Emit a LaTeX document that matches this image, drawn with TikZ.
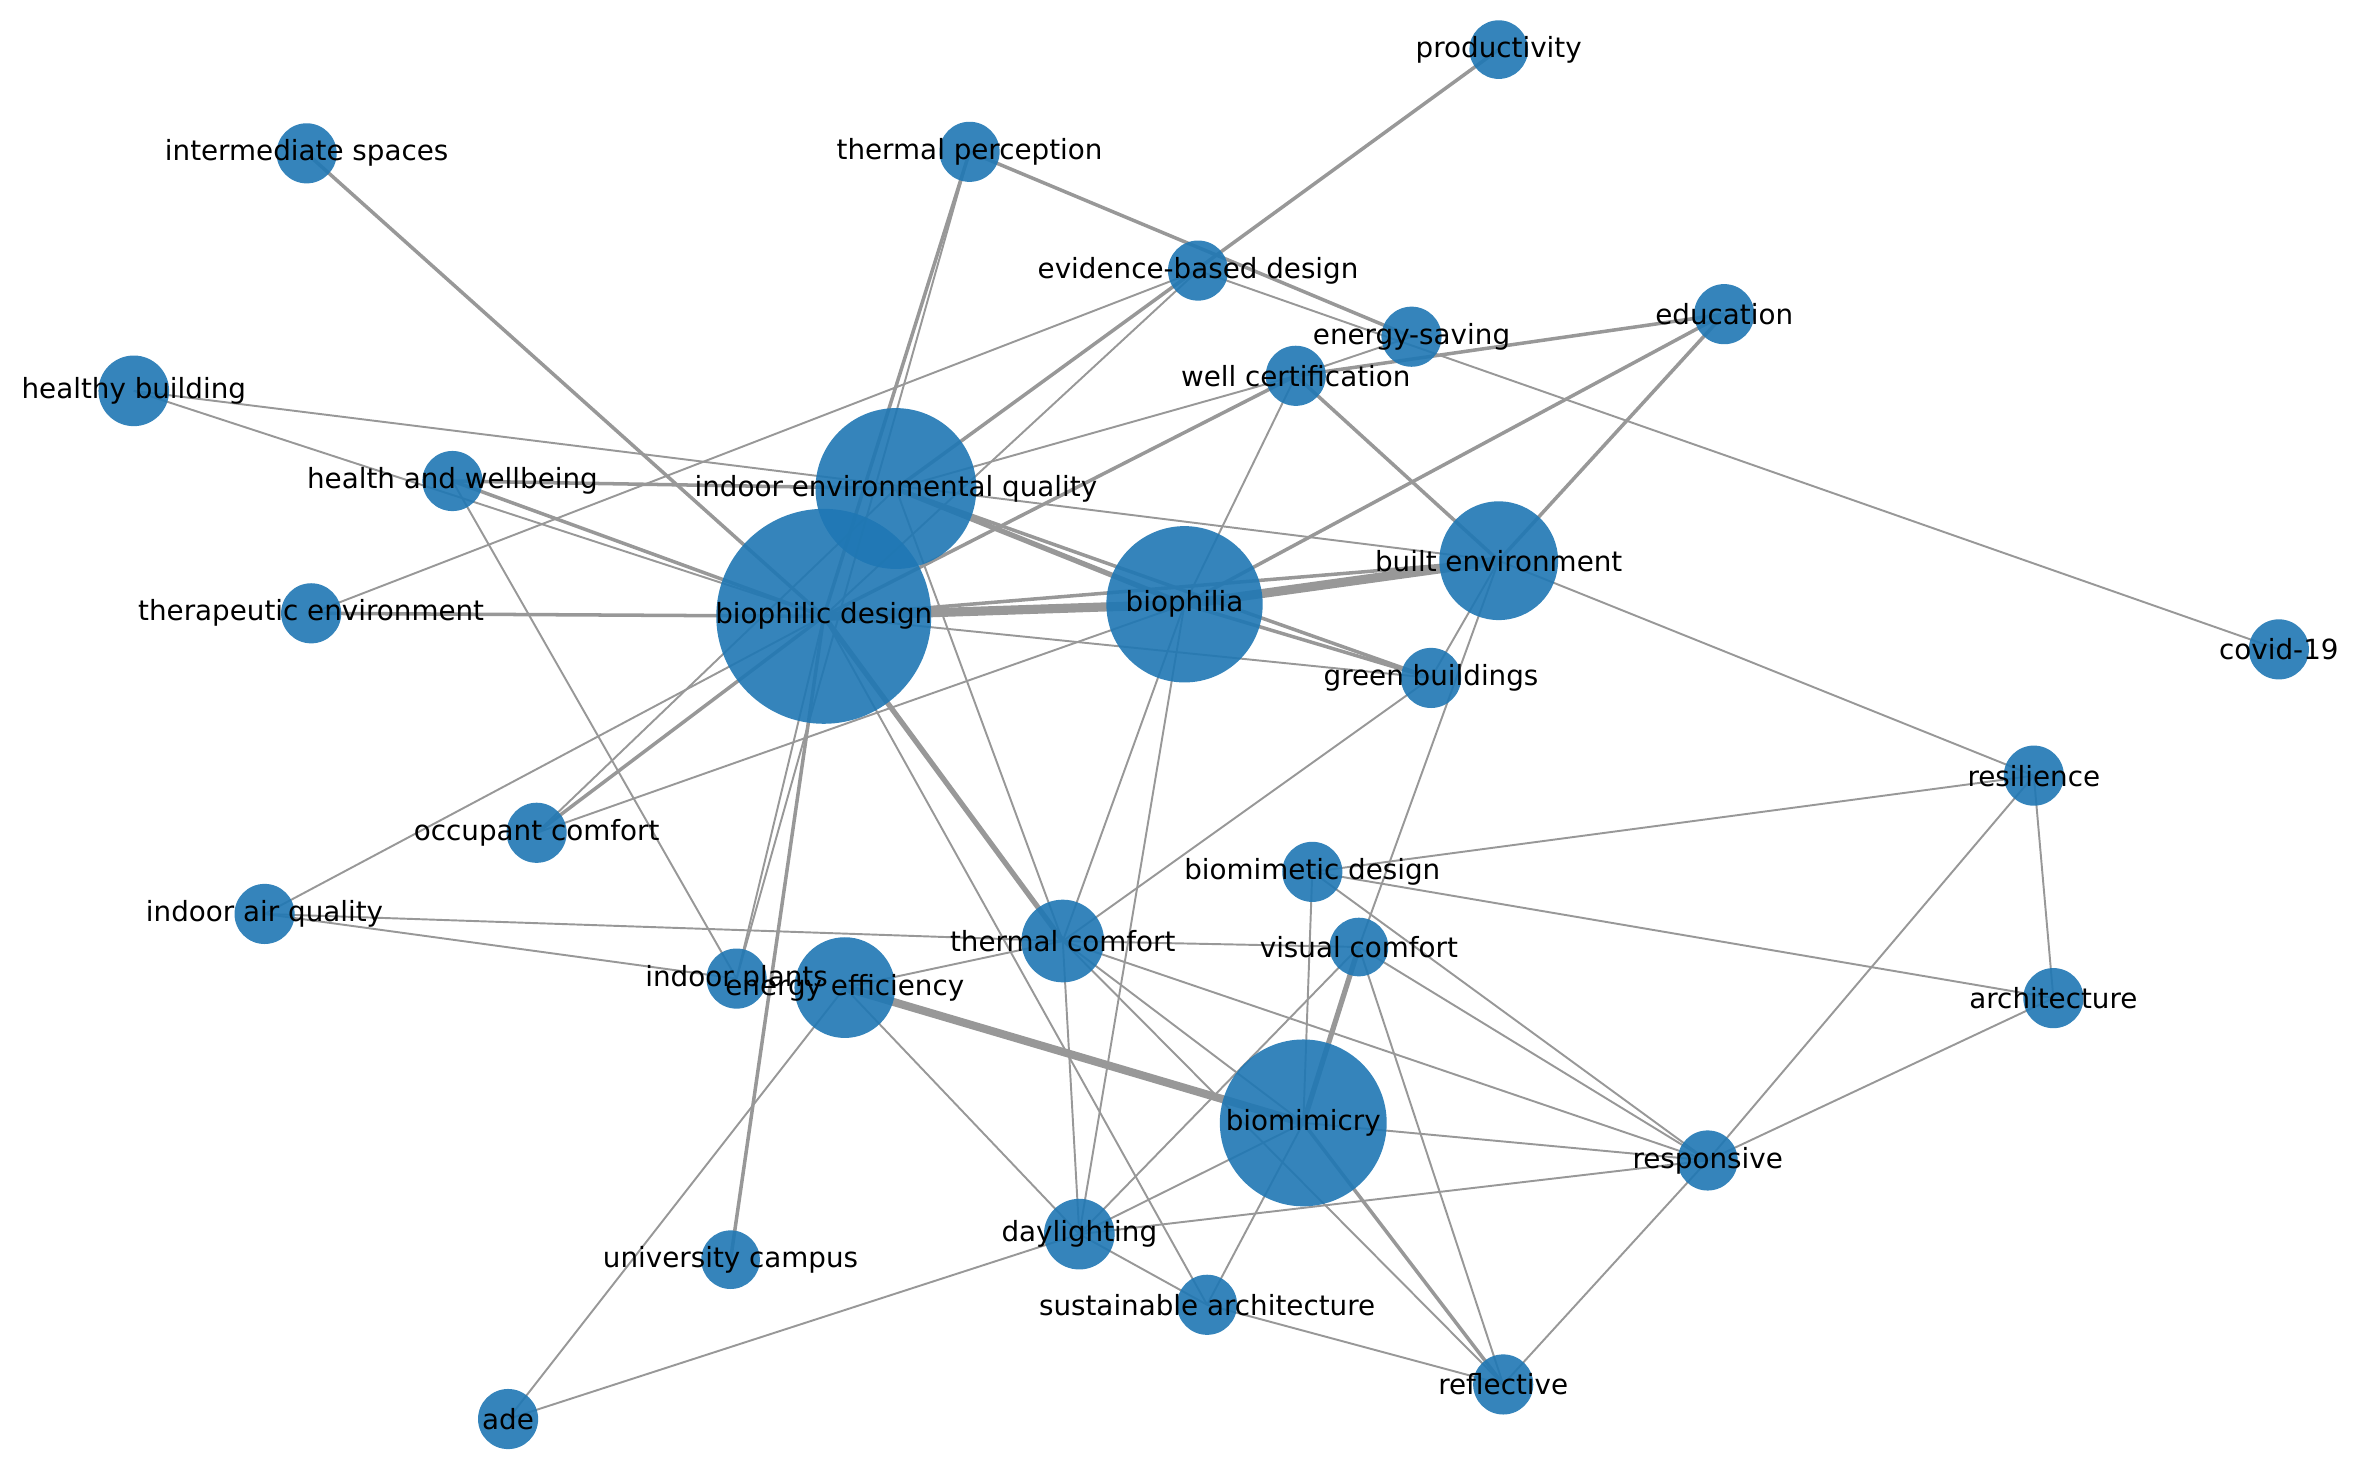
\documentclass[tikz,border=0pt]{standalone}
\usepackage{fontspec}
\setmainfont{DejaVu Sans}
\definecolor{nodeblue}{RGB}{31,119,180}
\definecolor{edgegray}{RGB}{152,152,152}
\pgfdeclarelayer{bg}
\pgfsetlayers{bg,main}
\begin{document}
\begin{tikzpicture}[x=0.01503cm, y=-0.01503cm,
  bub/.style={circle, fill=nodeblue, fill opacity=0.9, draw=none, inner sep=0pt, minimum size=#1*0.03006cm},
  lab/.style={font=\fontsize{7.9}{9.5}\selectfont, inner sep=0pt, text=black},
  ln/.style={draw=edgegray, line width=0.55pt},
  lnm/.style={draw=edgegray, line width=1.0pt},
  lnk/.style={draw=edgegray, line width=1.5pt},
  lnv/.style={draw=edgegray, line width=2.6pt}]
\useasboundingbox (0,0) rectangle (1568,987);
% nodes
\node[bub=19.5] (prod) at (997,33) {};
\node[bub=20] (inter) at (204,102) {};
\node[bub=20] (tperc) at (645,101) {};
\node[bub=20] (ebd) at (797,180) {};
\node[bub=20] (esav) at (939,224) {};
\node[bub=20] (edu) at (1147,209) {};
\node[bub=20] (well) at (862,250) {};
\node[bub=23.5] (hb) at (89,260) {};
\node[bub=20] (hw) at (301,320) {};
\node[bub=53.5] (ieq) at (596,325) {};
\node[bub=39.5] (be) at (997,373) {};
\node[bub=20] (ther) at (207,408) {};
\node[bub=71.5] (bd) at (548,410) {};
\node[bub=52] (bph) at (788,402) {};
\node[bub=20] (gb) at (952,451) {};
\node[bub=20] (covid) at (1516,432) {};
\node[bub=20] (res) at (1353,516) {};
\node[bub=20] (occ) at (357,554) {};
\node[bub=20] (bmd) at (873,580) {};
\node[bub=20] (iaq) at (176,608) {};
\node[bub=27.5] (tc) at (707,626) {};
\node[bub=19.5] (vc) at (904,630) {};
\node[bub=20] (arch) at (1366,664) {};
\node[bub=20] (ip) at (490,651) {};
\node[bub=33.5] (ee) at (562,657) {};
\node[bub=55.5] (bmc) at (867,747) {};
\node[bub=20] (resp) at (1136,772) {};
\node[bub=23.5] (day) at (718,821) {};
\node[bub=19.5] (uni) at (486,838) {};
\node[bub=20] (sa) at (803,868) {};
\node[bub=20] (refl) at (1000,921) {};
\node[bub=20] (ade) at (338,944) {};
% edges
\begin{pgfonlayer}{bg}
\draw[lnm] (inter.center) -- (bd.center);
\draw[ln] (hb.center) -- (be.center);
\draw[ln] (hb.center) -- (bd.center);
\draw[lnm] (hw.center) -- (ieq.center);
\draw[lnm] (hw.center) -- (bd.center);
\draw[ln] (hw.center) -- (ip.center);
\draw[lnm] (ther.center) -- (bd.center);
\draw[ln] (ther.center) -- (ebd.center);
\draw[ln] (occ.center) -- (ieq.center);
\draw[lnm] (occ.center) -- (bd.center);
\draw[ln] (occ.center) -- (bph.center);
\draw[ln] (iaq.center) -- (bd.center);
\draw[ln] (iaq.center) -- (tc.center);
\draw[ln] (iaq.center) -- (ip.center);
\draw[ln] (tc.center) -- (vc.center);
\draw[ln] (ip.center) -- (tperc.center);
\draw[ln] (ip.center) -- (bd.center);
\draw[lnm] (uni.center) -- (bd.center);
\draw[lnm] (tperc.center) -- (bd.center);
\draw[lnm] (prod.center) -- (ieq.center);
\draw[ln] (ebd.center) -- (bd.center);
\draw[ln] (ebd.center) -- (covid.center);
\draw[lnm] (tperc.center) -- (esav.center);
\draw[ln] (well.center) -- (esav.center);
\draw[lnm] (well.center) -- (edu.center);
\draw[ln] (well.center) -- (ieq.center);
\draw[lnm] (well.center) -- (bd.center);
\draw[ln] (well.center) -- (bph.center);
\draw[lnm] (well.center) -- (be.center);
\draw[lnm] (edu.center) -- (be.center);
\draw[lnm] (edu.center) -- (bph.center);
\draw[lnv] (bd.center) -- (bph.center);
\draw[lnv] (bph.center) -- (be.center);
\draw[lnm] (bd.center) -- (be.center);
\draw[lnk] (ieq.center) -- (bph.center);
\draw[lnm] (ieq.center) -- (gb.center);
\draw[lnm] (bph.center) -- (gb.center);
\draw[ln] (bd.center) -- (gb.center);
\draw[ln] (be.center) -- (gb.center);
\draw[ln] (be.center) -- (vc.center);
\draw[ln] (be.center) -- (res.center);
\draw[lnk] (bd.center) -- (tc.center);
\draw[ln] (ieq.center) -- (tc.center);
\draw[ln] (bph.center) -- (tc.center);
\draw[ln] (gb.center) -- (tc.center);
\draw[ln] (bph.center) -- (day.center);
\draw[ln] (bd.center) -- (sa.center);
\draw[draw=edgegray, line width=2.3pt] (ee.center) -- (bmc.center);
\draw[ln] (ee.center) -- (tc.center);
\draw[ln] (ee.center) -- (day.center);
\draw[ln] (ee.center) -- (ade.center);
\draw[ln] (ade.center) -- (day.center);
\draw[ln] (tc.center) -- (day.center);
\draw[ln] (tc.center) -- (bmc.center);
\draw[ln] (tc.center) -- (refl.center);
\draw[ln] (tc.center) -- (resp.center);
\draw[lnk] (vc.center) -- (bmc.center);
\draw[ln] (vc.center) -- (day.center);
\draw[ln] (vc.center) -- (refl.center);
\draw[ln] (vc.center) -- (resp.center);
\draw[ln] (bmd.center) -- (res.center);
\draw[ln] (bmd.center) -- (arch.center);
\draw[ln] (bmd.center) -- (bmc.center);
\draw[ln] (bmd.center) -- (resp.center);
\draw[ln] (bmc.center) -- (resp.center);
\draw[ln] (bmc.center) -- (day.center);
\draw[ln] (bmc.center) -- (sa.center);
\draw[lnm] (bmc.center) -- (refl.center);
\draw[ln] (day.center) -- (resp.center);
\draw[ln] (day.center) -- (sa.center);
\draw[ln] (sa.center) -- (refl.center);
\draw[ln] (res.center) -- (arch.center);
\draw[ln] (res.center) -- (resp.center);
\draw[ln] (arch.center) -- (resp.center);
\draw[ln] (resp.center) -- (refl.center);
\end{pgfonlayer}
% labels
\node[lab] (prod-l) at (prod) {productivity};
\node[lab] (inter-l) at (inter) {intermediate spaces};
\node[lab] (tperc-l) at (tperc) {thermal perception};
\node[lab] (ebd-l) at (ebd) {evidence-based design};
\node[lab] (esav-l) at (esav) {energy-saving};
\node[lab] (edu-l) at (edu) {education};
\node[lab] (well-l) at (well) {well certification};
\node[lab] (hb-l) at (hb) {healthy building};
\node[lab] (hw-l) at (hw) {health and wellbeing};
\node[lab] (ieq-l) at (ieq) {indoor environmental quality};
\node[lab] (be-l) at (be) {built environment};
\node[lab] (ther-l) at (ther) {therapeutic environment};
\node[lab] (bd-l) at (bd) {biophilic design};
\node[lab] (bph-l) at (bph) {biophilia};
\node[lab] (gb-l) at (gb) {green buildings};
\node[lab] (covid-l) at (covid) {covid-19};
\node[lab] (res-l) at (res) {resilience};
\node[lab] (occ-l) at (occ) {occupant comfort};
\node[lab] (bmd-l) at (bmd) {biomimetic design};
\node[lab] (iaq-l) at (iaq) {indoor air quality};
\node[lab] (tc-l) at (tc) {thermal comfort};
\node[lab] (vc-l) at (vc) {visual comfort};
\node[lab] (arch-l) at (arch) {architecture};
\node[lab] (ip-l) at (ip) {indoor plants};
\node[lab] (ee-l) at (ee) {energy efficiency};
\node[lab] (bmc-l) at (bmc) {biomimicry};
\node[lab] (resp-l) at (resp) {responsive};
\node[lab] (day-l) at (day) {daylighting};
\node[lab] (uni-l) at (uni) {university campus};
\node[lab] (sa-l) at (sa) {sustainable architecture};
\node[lab] (refl-l) at (refl) {reflective};
\node[lab] (ade-l) at (ade) {ade};
\end{tikzpicture}
\end{document}
